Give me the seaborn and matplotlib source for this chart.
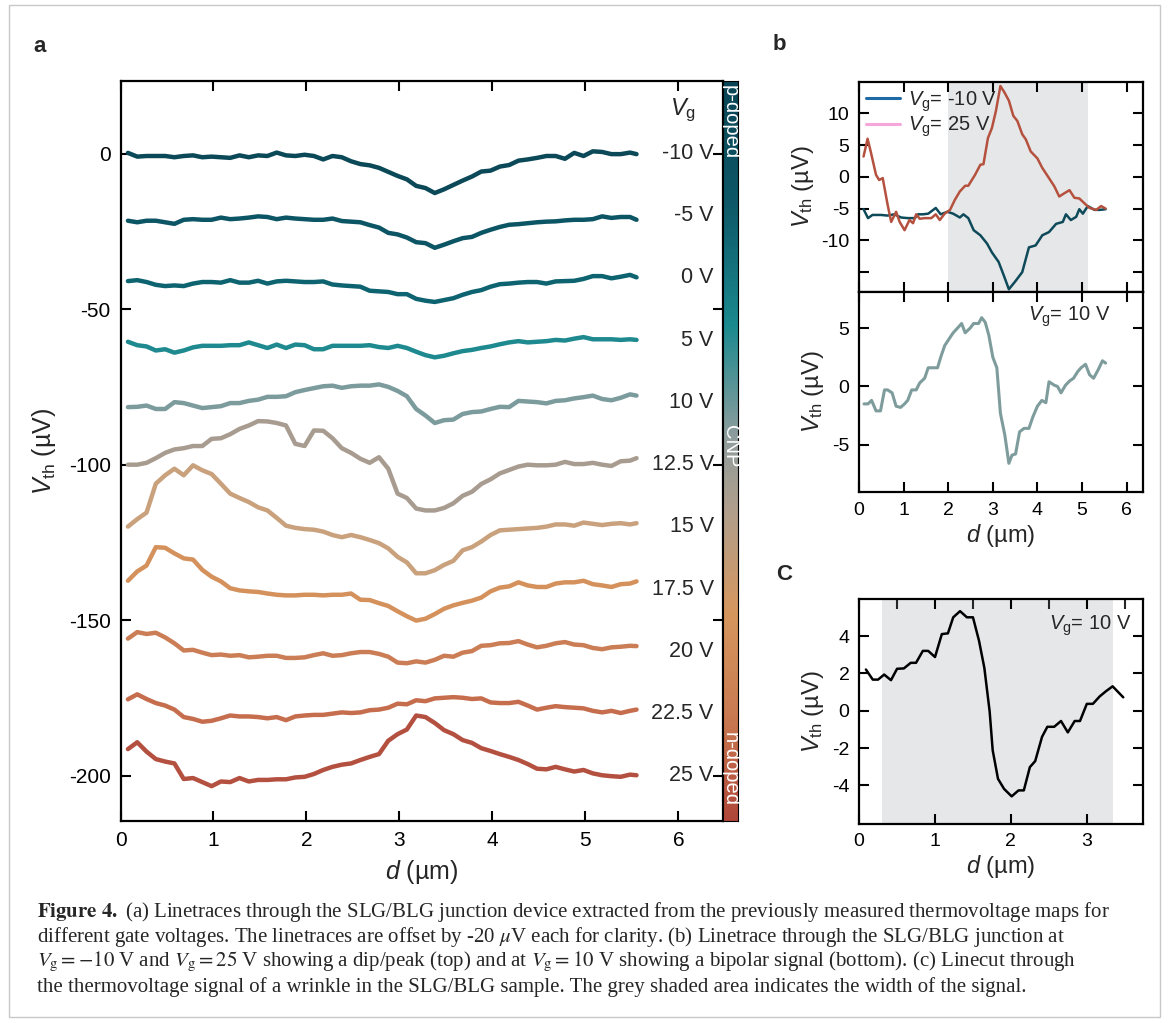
import numpy as np
import pandas as pd
import matplotlib
matplotlib.use("Agg")
import matplotlib.pyplot as plt
import seaborn as sns
from matplotlib.colors import LinearSegmentedColormap
from matplotlib.lines import Line2D
from matplotlib.patches import Rectangle

# ---------------- data ----------------
# panel a: distance grid (um) and plotted (offset) thermovoltage traces (uV)
D_A = [0.08, 0.18, 0.28, 0.38, 0.48, 0.58, 0.68, 0.78, 0.88, 0.98, 1.08, 1.18, 1.28, 1.38,
       1.48, 1.58, 1.68, 1.78, 1.88, 1.98, 2.08, 2.18, 2.28, 2.38, 2.48, 2.58, 2.68, 2.78,
       2.88, 2.98, 3.08, 3.18, 3.28, 3.38, 3.48, 3.58, 3.68, 3.78, 3.88, 3.98, 4.08, 4.18,
       4.28, 4.38, 4.48, 4.58, 4.68, 4.78, 4.88, 4.98, 5.08, 5.18, 5.28, 5.38, 5.48, 5.55]

GATE_LABELS = ["-10 V", "-5 V", "0 V", "5 V", "10 V", "12.5 V", "15 V", "17.5 V", "20 V", "22.5 V", "25 V"]
LABEL_LEVELS = [0, -20, -40, -60, -80, -100, -120, -140, -160, -180, -200]

V_M10 = [0.2, -1.0, -0.8, -0.8, -0.8, -1.2, -0.8, -0.6, -1.2, -1.0, -1.2, -1.4, -0.6, -1.2, -0.6, -0.8,
         0.3, -0.6, -0.8, -0.4, -0.8, -1.9, -0.8, -1.2, -2.5, -3.4, -3.8, -4.6, -5.9, -7.2, -8.3, -10.4,
         -11.1, -12.7, -11.5, -10.1, -8.7, -7.4, -5.8, -5.5, -4.2, -3.7, -2.3, -1.9, -1.4, -0.8, -0.8,
         -1.7, 0.2, -0.8, 0.7, 0.5, -0.2, -0.2, 0.3, -0.2]
V_M5 = [-21.6, -22.1, -21.6, -21.6, -22.1, -22.6, -21.3, -21.1, -21.3, -21.3, -20.6, -21.1, -20.9, -20.6,
        -20.2, -20.4, -21.1, -20.6, -20.9, -21.1, -21.3, -21.3, -20.9, -21.7, -21.9, -22.1, -23.0, -23.8,
        -25.5, -26.0, -27.0, -28.5, -28.8, -30.3, -29.3, -28.2, -27.2, -26.8, -25.5, -24.5, -23.6, -22.9,
        -22.7, -22.4, -22.1, -21.9, -21.8, -21.5, -21.3, -21.3, -21.1, -20.2, -20.7, -20.4, -20.4, -21.3]
V_0 = [-41.0, -40.7, -41.3, -42.2, -42.6, -42.4, -42.6, -41.8, -41.3, -41.3, -41.5, -40.7, -41.5, -41.5,
       -40.9, -41.8, -41.1, -40.9, -41.1, -41.3, -41.3, -41.1, -42.1, -42.4, -42.6, -42.8, -44.1, -44.3,
       -44.5, -45.2, -45.2, -46.7, -47.3, -47.7, -47.1, -46.5, -45.4, -44.5, -43.9, -42.8, -42.0, -41.8,
       -41.5, -41.3, -41.3, -41.8, -41.1, -41.0, -40.9, -40.3, -39.4, -39.4, -40.1, -39.6, -39.0, -39.8]
V_5 = [-60.5, -61.6, -62.0, -63.3, -62.9, -64.0, -63.3, -62.3, -61.8, -61.8, -61.8, -61.6, -61.6, -60.7,
       -61.6, -62.5, -61.4, -62.5, -61.4, -61.6, -62.9, -62.9, -61.8, -61.8, -61.8, -61.8, -61.6, -62.2,
       -62.5, -61.8, -62.5, -63.7, -64.8, -65.5, -65.0, -64.2, -63.5, -63.1, -62.5, -62.0, -61.3, -60.7,
       -60.3, -60.7, -60.5, -60.3, -59.9, -60.1, -59.5, -59.0, -59.7, -59.7, -59.7, -59.9, -59.7, -59.9]
V_10 = [-81.5, -81.4, -81.0, -82.1, -82.1, -79.9, -80.2, -81.0, -81.8, -81.5, -81.2, -80.2, -80.2, -79.5,
        -79.1, -78.2, -78.2, -78.0, -76.7, -76.0, -75.4, -74.8, -74.6, -75.3, -74.8, -74.6, -74.6, -74.2,
        -75.0, -76.3, -78.0, -82.1, -84.2, -86.6, -85.7, -85.5, -83.7, -83.1, -82.9, -82.1, -81.4, -81.5,
        -79.5, -79.7, -79.9, -80.3, -79.5, -79.3, -78.7, -78.3, -77.8, -78.9, -79.3, -78.5, -77.4, -77.8]
V_12_5 = [-100.0, -100.0, -99.4, -97.9, -96.2, -95.1, -94.7, -94.0, -94.0, -91.7, -91.5, -90.2, -88.5,
          -87.4, -86.0, -86.1, -86.6, -87.4, -93.3, -94.0, -89.0, -89.1, -91.5, -94.7, -96.2, -98.1,
          -99.4, -97.6, -101.3, -109.3, -110.7, -114.1, -114.7, -114.7, -113.9, -112.4, -110.0, -108.7,
          -106.2, -104.7, -102.8, -101.7, -100.6, -100.0, -100.2, -100.2, -100.0, -99.1, -99.8, -99.8,
          -99.4, -100.0, -100.4, -98.9, -98.7, -97.9]
V_15 = [-119.9, -117.5, -115.4, -106.1, -103.4, -101.3, -103.4, -100.2, -101.8, -103.0, -106.1, -109.3,
        -110.7, -112.0, -113.7, -114.7, -117.1, -119.6, -120.3, -120.7, -120.9, -121.5, -122.6, -123.3,
        -122.6, -123.3, -124.2, -125.2, -126.9, -129.6, -131.4, -134.9, -134.9, -133.9, -132.2, -130.9,
        -127.5, -126.5, -124.7, -122.6, -121.1, -120.9, -120.7, -120.5, -120.3, -119.9, -119.2, -119.2,
        -119.6, -118.6, -119.0, -119.4, -119.0, -118.8, -119.2, -118.8]
V_17_5 = [-137.3, -134.3, -132.4, -126.5, -126.7, -128.5, -130.1, -130.5, -133.8, -136.0, -137.5, -139.7,
          -140.4, -140.7, -140.9, -141.4, -141.8, -142.0, -142.0, -141.8, -141.8, -142.0, -141.8, -141.8,
          -141.4, -143.4, -143.5, -144.5, -145.4, -147.1, -148.7, -150.1, -149.5, -148.0, -146.3, -145.2,
          -144.4, -143.7, -142.7, -140.7, -139.5, -139.1, -137.8, -138.8, -139.3, -139.3, -138.2, -137.8,
          -137.8, -137.3, -138.4, -138.8, -139.3, -138.4, -138.2, -137.5]
V_20 = [-155.9, -153.8, -154.4, -154.0, -155.5, -157.4, -159.7, -159.5, -160.4, -161.2, -161.0, -161.4,
        -161.2, -161.9, -161.7, -161.4, -161.4, -162.1, -162.1, -161.9, -161.2, -160.6, -161.4, -161.2,
        -160.6, -160.2, -160.2, -160.8, -161.7, -163.6, -163.8, -163.2, -163.6, -162.7, -161.4, -161.7,
        -160.4, -159.9, -158.2, -158.0, -157.4, -157.3, -156.7, -157.8, -158.7, -158.2, -157.4, -157.0,
        -157.8, -158.0, -158.9, -159.3, -158.7, -158.5, -158.2, -158.3]
V_22_5 = [-175.4, -173.8, -175.3, -176.6, -177.4, -178.7, -181.1, -181.7, -182.6, -182.3, -181.5, -180.6,
          -180.9, -180.9, -181.1, -181.5, -181.1, -182.1, -180.9, -180.6, -180.4, -180.4, -180.0, -179.6,
          -179.8, -179.6, -178.9, -178.7, -178.1, -176.8, -177.0, -175.7, -176.0, -175.1, -174.9, -174.7,
          -174.9, -175.3, -175.1, -176.4, -176.6, -176.6, -176.2, -177.4, -178.7, -178.1, -177.6, -177.9,
          -178.1, -178.3, -179.1, -179.6, -179.1, -179.8, -179.1, -178.7]
V_25 = [-191.4, -189.2, -192.2, -194.6, -195.4, -196.0, -201.0, -200.7, -202.0, -203.3, -201.8, -202.0,
        -200.7, -201.8, -201.3, -201.3, -201.1, -201.1, -200.5, -200.3, -199.4, -198.1, -197.1, -196.4,
        -196.0, -194.9, -193.9, -193.0, -188.7, -186.6, -185.1, -180.6, -181.1, -183.0, -185.3, -186.6,
        -188.5, -189.4, -191.1, -192.0, -193.0, -193.9, -194.9, -196.2, -197.7, -197.9, -197.1, -197.9,
        -198.6, -198.1, -199.2, -199.8, -200.1, -200.3, -199.6, -199.8]
TRACES_A = [V_M10, V_M5, V_0, V_5, V_10, V_12_5, V_15, V_17_5, V_20, V_22_5, V_25]

# panel b (top): Vg = -10 V and Vg = 25 V
D_B_M10 = [0.10, 0.20, 0.30, 0.49, 0.64, 0.79, 0.94, 1.09, 1.25, 1.32, 1.43, 1.55, 1.72, 1.83, 1.98,
           2.11, 2.26, 2.34, 2.45, 2.57, 2.72, 2.87, 2.98, 3.13, 3.25, 3.36, 3.51, 3.66, 3.81, 3.96,
           4.11, 4.26, 4.42, 4.57, 4.64, 4.75, 4.87, 4.94, 5.02, 5.13, 5.28, 5.40, 5.53]
V_B_M10 = [-5.1, -6.5, -6.0, -6.0, -6.1, -5.9, -6.4, -6.5, -6.5, -5.9, -5.9, -5.8, -4.9, -5.9, -5.5,
           -5.8, -6.4, -5.9, -6.5, -8.4, -9.2, -10.5, -11.9, -13.4, -15.6, -17.7, -16.4, -15.0, -11.1,
           -10.8, -9.2, -8.7, -7.4, -7.1, -5.9, -6.8, -6.3, -5.1, -5.8, -4.6, -5.2, -5.2, -5.1]
D_B_25 = [0.10, 0.19, 0.26, 0.38, 0.45, 0.53, 0.64, 0.72, 0.83, 0.91, 1.02, 1.13, 1.21, 1.28, 1.36,
          1.47, 1.62, 1.72, 1.81, 1.92, 2.04, 2.15, 2.26, 2.38, 2.45, 2.60, 2.72, 2.79, 2.89, 2.98,
          3.07, 3.17, 3.26, 3.36, 3.46, 3.55, 3.66, 3.74, 3.85, 4.00, 4.11, 4.26, 4.38, 4.49, 4.60,
          4.72, 4.83, 4.94, 5.06, 5.17, 5.32, 5.43, 5.53]
V_B_25 = [3.2, 6.0, 4.0, 0.3, -0.5, -0.2, -4.4, -7.1, -5.5, -7.1, -8.4, -6.8, -7.3, -5.9, -6.6,
          -6.5, -6.5, -5.9, -6.8, -5.8, -5.2, -3.6, -2.3, -1.4, -1.4, 0.3, 1.9, 2.0, 6.1, 7.7,
          10.4, 14.3, 13.3, 12.0, 9.6, 8.8, 6.7, 5.9, 4.0, 2.9, 1.4, -0.2, -1.5, -3.1, -2.6,
          -2.1, -3.3, -3.4, -4.2, -4.9, -5.2, -4.6, -5.0]

# panel b (bottom): Vg = 10 V
D_B_10 = [0.11, 0.20, 0.28, 0.38, 0.48, 0.57, 0.64, 0.74, 0.83, 0.93, 1.02, 1.09, 1.18, 1.28, 1.36,
          1.47, 1.55, 1.66, 1.76, 1.83, 1.92, 2.04, 2.11, 2.23, 2.30, 2.38, 2.49, 2.57, 2.68, 2.75,
          2.83, 2.91, 3.00, 3.09, 3.17, 3.27, 3.36, 3.43, 3.51, 3.60, 3.70, 3.81, 3.90, 4.00, 4.10,
          4.19, 4.26, 4.38, 4.45, 4.53, 4.63, 4.72, 4.81, 4.91, 4.98, 5.08, 5.17, 5.26, 5.36, 5.46, 5.53]
V_B_10 = [-1.5, -1.5, -1.2, -2.1, -2.1, -0.3, -0.3, -0.55, -1.7, -1.8, -1.5, -1.2, -0.3, -0.3, 0.3,
          0.7, 1.6, 1.6, 1.6, 2.5, 3.5, 4.2, 4.6, 5.1, 5.4, 4.6, 5.0, 5.4, 5.4, 5.9,
          5.5, 4.4, 2.5, 1.6, -2.3, -4.2, -6.6, -5.9, -5.8, -3.9, -3.6, -3.6, -2.6, -1.7, -1.2,
          -1.4, 0.4, 0.1, 0.0, -0.55, 0.1, 0.46, 0.7, 1.3, 1.6, 1.9, 1.0, 0.7, 1.4, 2.2, 2.0]
SHADE_B = (1.99, 5.13)

# panel c: wrinkle linecut at Vg = 10 V
D_C = [0.09, 0.18, 0.25, 0.33, 0.42, 0.50, 0.59, 0.68, 0.75, 0.84, 0.91, 1.00, 1.09, 1.17, 1.24,
       1.33, 1.42, 1.50, 1.58, 1.65, 1.72, 1.76, 1.83, 1.91, 2.01, 2.10, 2.17, 2.25, 2.32, 2.41,
       2.48, 2.57, 2.66, 2.75, 2.84, 2.91, 3.00, 3.08, 3.17, 3.25, 3.34, 3.48]
V_C = [2.21, 1.67, 1.67, 1.94, 1.64, 2.25, 2.27, 2.57, 2.57, 3.21, 3.21, 2.88, 4.11, 4.15, 5.01,
       5.34, 5.01, 5.01, 3.75, 2.30, -0.04, -2.12, -3.65, -4.19, -4.59, -4.27, -4.27, -3.02, -2.70, -1.40,
       -0.86, -0.86, -0.55, -1.16, -0.55, -0.55, 0.37, 0.37, 0.77, 1.04, 1.31, 0.72]
SHADE_C = (0.30, 3.35)

CAPTION = [
    r"$\mathbf{Figure\ 4.}$ (a) Linetraces through the SLG/BLG junction device extracted from the previously measured thermovoltage maps for",
    r"different gate voltages. The linetraces are offset by -20 $\mu$V each for clarity. (b) Linetrace through the SLG/BLG junction at",
    r"$V_\mathrm{g} = -10$ V and $V_\mathrm{g} = 25$ V showing a dip/peak (top) and at $V_\mathrm{g} = 10$ V showing a bipolar signal (bottom). (c) Linecut through",
    r"the thermovoltage signal of a wrinkle in the SLG/BLG sample. The grey shaded area indicates the width of the signal.",
]

# ---------------- style ----------------
TRACE_COLORS = ["#0b4858", "#0c5565", "#0e6370", "#1e8a8f", "#7c9b9d", "#a89c90",
                "#c9a17d", "#d4915c", "#cb7d55", "#c56d4d", "#b4503f"]
CMAP_COLORS = [(0.0, "#0a4555"), (0.16, "#0d5767"), (0.33, "#1b8a8f"), (0.48, "#8e9d9d"),
               (0.58, "#b09f8c"), (0.72, "#d6975e"), (0.86, "#c97a51"), (1.0, "#b0473a")]

sns.set_style("ticks")
plt.rcParams["font.family"] = ["Liberation Sans", "DejaVu Sans"]
plt.rcParams["mathtext.fontset"] = "custom"
plt.rcParams["mathtext.rm"] = "Liberation Sans"
plt.rcParams["mathtext.it"] = "Liberation Sans:italic"
plt.rcParams["mathtext.bf"] = "Liberation Sans:bold"
plt.rcParams["axes.linewidth"] = 1.6
plt.rcParams["axes.edgecolor"] = "black"
plt.rcParams["axes.unicode_minus"] = False

W, H = 1171, 1023
fig = plt.figure(figsize=(W / 100, H / 100), dpi=100)
fig.patch.set_facecolor("white")


def fax(left, top, right, bottom):
    return fig.add_axes([left / W, 1 - bottom / H, (right - left) / W, (bottom - top) / H])


def style_ticks(ax, size):
    ax.tick_params(direction="in", top=True, right=True, length=7, width=1.5,
                   labelsize=size, pad=7, colors="black")


VTH = r"$V_{\mathrm{th}}$ (µV)"
DUM = r"$d$ (µm)"

# ---------------- panel a ----------------
axA = fax(120.5, 81, 723, 821)
rows = []
for lab, vals in zip(GATE_LABELS, TRACES_A):
    rows.append(pd.DataFrame({"d": D_A, "V": vals, "gate": lab}))
dfA = pd.concat(rows, ignore_index=True)
sns.lineplot(data=dfA, x="d", y="V", hue="gate", palette=dict(zip(GATE_LABELS, TRACE_COLORS)),
             estimator=None, sort=False, lw=3.2, legend=False, ax=axA)
axA.set_xlim(0, 6.48)
axA.set_ylim(-214.5, 23.3)
axA.set_xticks(range(0, 7))
axA.set_yticks([0, -50, -100, -150, -200])
style_ticks(axA, 15)
axA.set_xlabel(DUM, fontsize=18, labelpad=6)
axA.set_ylabel(VTH, fontsize=18, labelpad=8)
for lab, lev in zip(GATE_LABELS, LABEL_LEVELS):
    axA.text(6.38, lev, lab, ha="right", va="center", fontsize=15.5)
axA.text(6.05, 14.0, r"$V_{\mathrm{g}}$", ha="center", va="center", fontsize=17)

# colorbar
cmap = LinearSegmentedColormap.from_list("doping", CMAP_COLORS)
cax = fax(723, 81, 738, 821)
grad = np.linspace(0, 1, 256).reshape(-1, 1)
cax.imshow(grad, aspect="auto", cmap=cmap, extent=[0, 1, 1, 0])
cax.set_xticks([])
cax.set_yticks([])
for s in cax.spines.values():
    s.set_linewidth(0.8)
cax.text(0.5, 0.995, "p-doped", rotation=-90, color="white", ha="center", va="top",
         fontsize=14.5, transform=cax.transAxes)
cax.text(0.5, 0.507, "CNP", rotation=-90, color="white", ha="center", va="center",
         fontsize=14.5, transform=cax.transAxes)
cax.text(0.5, 0.02, "n-doped", rotation=-90, color="white", ha="center", va="bottom",
         fontsize=14.5, transform=cax.transAxes)

# ---------------- panel b top ----------------
axB1 = fax(859.1, 82.2, 1142.6, 291.8)
axB1.axvspan(*SHADE_B, color="#e6e7e8", lw=0, zorder=0)
sns.lineplot(x=D_B_M10, y=V_B_M10, color="#0e4a5a", lw=1.8, ax=axB1, estimator=None, sort=False)
sns.lineplot(x=D_B_25, y=V_B_25, color="#b5513f", lw=1.8, ax=axB1, estimator=None, sort=False)
axB1.set_xlim(0, 6.36)
axB1.set_ylim(-18.1, 14.9)
axB1.set_xticks(range(0, 7))
axB1.set_xticklabels([])
axB1.set_yticks([10, 5, 0, -5, -10, -15])
axB1.set_yticklabels(["10", "5", "0", "-5", "-10", ""])
style_ticks(axB1, 14)
axB1.set_ylabel(VTH, fontsize=17, labelpad=4)
handles = [Line2D([], [], color="#1f6aa5", lw=2.2), Line2D([], [], color="#f7a6dc", lw=2.2)]
axB1.legend(handles, [r"$V_{\mathrm{g}}$= -10 V", r"$V_{\mathrm{g}}$= 25 V"], loc="upper left",
            frameon=False, fontsize=14.5, handlelength=1.7, handletextpad=0.4,
            labelspacing=0.05, borderaxespad=0.15, borderpad=0.2)

# ---------------- panel b bottom ----------------
axB2 = fax(859.1, 291.8, 1142.6, 492.1)
sns.lineplot(x=D_B_10, y=V_B_10, color="#7f9c9d", lw=2.2, ax=axB2, estimator=None, sort=False)
axB2.set_xlim(0, 6.36)
axB2.set_ylim(-9.07, 8.12)
axB2.set_xticks(range(0, 7))
axB2.set_yticks([5, 0, -5])
style_ticks(axB2, 14)
axB2.set_xlabel(DUM, fontsize=17, labelpad=2)
axB2.set_ylabel(VTH, fontsize=17, labelpad=4)
axB2.text(0.885, 0.874, r"$V_{\mathrm{g}}$= 10 V", ha="right", va="center", fontsize=14.5,
          transform=axB2.transAxes)

# ---------------- panel c ----------------
axC = fax(859.1, 599.4, 1142.6, 823.6)
axC.axvspan(*SHADE_C, color="#e6e7e8", lw=0, zorder=0)
sns.lineplot(x=D_C, y=V_C, color="black", lw=1.8, ax=axC, estimator=None, sort=False)
axC.set_xlim(0, 3.735)
axC.set_ylim(-6.05, 5.97)
axC.set_xticks([0, 1, 2, 3])
axC.set_xticks([0.5, 1.5, 2.5, 3.5], minor=True)
axC.set_yticks([4, 2, 0, -2, -4])
style_ticks(axC, 14)
axC.tick_params(which="minor", direction="in", top=True, bottom=False, length=7, width=1.5)
axC.set_xlabel(DUM, fontsize=17, labelpad=2)
axC.set_ylabel(VTH, fontsize=17, labelpad=4)
axC.text(0.962, 0.883, r"$V_{\mathrm{g}}$= 10 V", ha="right", va="center", fontsize=14.5,
         transform=axC.transAxes)

# ---------------- panel letters ----------------
fig.text(40 / W, 1 - 47 / H, "a", fontsize=16, fontweight="bold", ha="center", va="center")
fig.text(779 / W, 1 - 45 / H, "b", fontsize=16, fontweight="bold", ha="center", va="center")
fig.text(784 / W, 1 - 575 / H, "C", fontsize=16, fontweight="bold", ha="center", va="center")

# ---------------- caption ----------------
for i, line in enumerate(CAPTION):
    t = fig.text(37 / W, 1 - (912 + 25 * i) / H, line, fontsize=15.0, ha="left", va="center",
                 family=["Liberation Serif", "DejaVu Serif"])
    t.set_math_fontfamily("stix")

# outer frame
fig.patches.append(Rectangle((9 / W, 1 - 1017 / H), (1160 - 9) / W, (1017 - 5) / H,
                             transform=fig.transFigure, fill=False, ec="#c8c8c8", lw=1.0))

fig.savefig("out.png", dpi=100, facecolor="white")
